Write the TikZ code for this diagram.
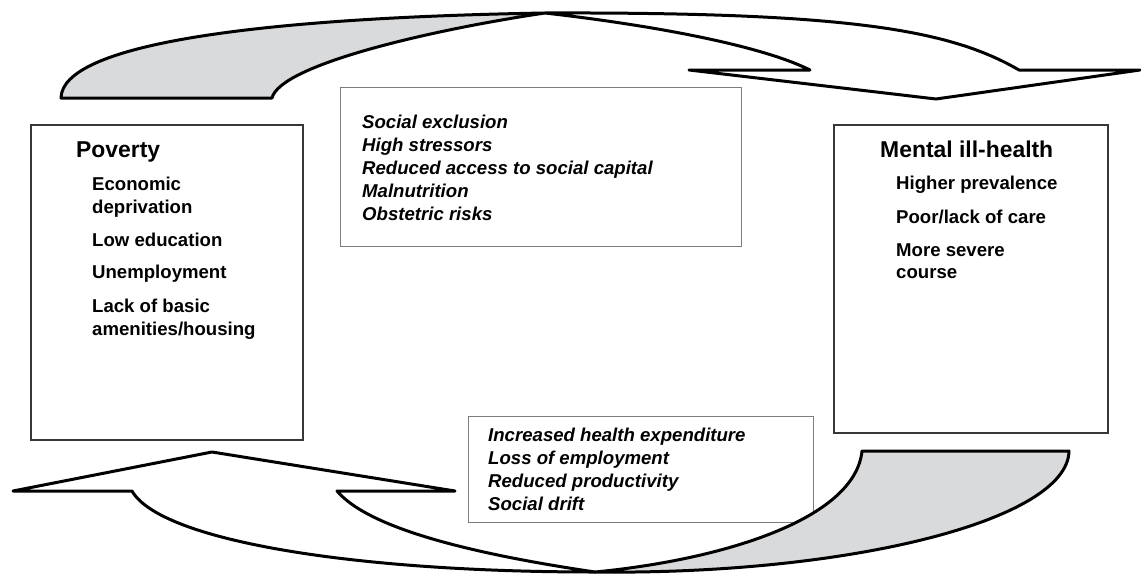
\documentclass[tikz,border=0pt]{standalone}
\usepackage{fontspec}
\setmainfont{Liberation Sans}
\usepackage{tikz}
\usetikzlibrary{positioning}
\definecolor{ribbongray}{RGB}{217,218,220}
\definecolor{boxline}{RGB}{55,55,55}
\definecolor{noteline}{RGB}{125,125,125}
\tikzset{
  bigbox/.style={draw=boxline, line width=1.8pt, anchor=north west, inner sep=0pt},
  notebox/.style={draw=noteline, line width=1.1pt, anchor=north west, inner sep=0pt},
  ribbon/.style={draw=black, line width=3pt, line join=round},
  title/.style={anchor=base west, inner sep=0pt, font=\fontsize{22.9}{27}\selectfont\bfseries},
  item/.style={anchor=base west, inner sep=0pt, font=\fontsize{18.6}{24}\selectfont\bfseries},
  note/.style={anchor=base west, inner sep=0pt, font=\fontsize{18.6}{24}\selectfont\bfseries\itshape}
}

\begin{document}
\begin{tikzpicture}[x=1pt, y=-1pt]
\useasboundingbox[fill=white] (0,0) rectangle (1141,576);

% boxes
\node[bigbox, minimum width=272pt, minimum height=315pt] (poverty) at (30,124) {};
\node[bigbox, minimum width=274pt, minimum height=308pt] (mental) at (833,124) {};
\node[notebox, minimum width=401pt, minimum height=159pt] (causes) at (340,87) {};
\node[notebox, minimum width=345pt, minimum height=106pt] (effects) at (468,416) {};

% poverty
\node[title] (povtitle) at (76,157) {Poverty};
\foreach \yy/\txt [count=\i] in {190/Economic, 213/deprivation, 246/{Low education},
    278/Unemployment, 312/{Lack of basic}, 335/{amenities/housing}}
  \node[item] (pov\i) at (92,\yy) {\txt};

% mental ill-health
\node[title] (mentitle) at (880,157) {Mental ill-health};
\foreach \yy/\txt [count=\i] in {189/{Higher prevalence}, 223/{Poor/lack of care},
    256/{More severe}, 278/course}
  \node[item] (men\i) at (896,\yy) {\txt};

% pathways
\foreach \yy/\txt [count=\i] in {128/{Social exclusion}, 151/{High stressors},
    174/{Reduced access to social capital}, 197/Malnutrition, 220/{Obstetric risks}}
  \node[note] (cause\i) at (362,\yy) {\txt};
\foreach \yy/\txt [count=\i] in {441/{Increased health expenditure}, 464/{Loss of employment},
    487/{Reduced productivity}, 510/{Social drift}}
  \node[note] (effect\i) at (488,\yy) {\txt};

% top ribbon arrow
\coordinate (topx) at (545,13);
\filldraw[ribbon, fill=ribbongray] (61,98) .. controls (62,45) and (250,18) .. (topx)
  .. controls (430,30) and (280,65) .. (272,98) -- cycle;
\filldraw[ribbon, fill=white] (topx) .. controls (850,12) and (950,30) .. (1019,70)
  -- (1140,70) -- (936,99) -- (689,70) -- (810,70)
  .. controls (760,45) and (650,25) .. (topx) -- cycle;

% bottom ribbon arrow
\coordinate (botx) at (595,572);
\filldraw[ribbon, fill=ribbongray] (botx) .. controls (850,575) and (1068,520) .. (1069,451)
  -- (862,451) .. controls (855,520) and (720,560) .. (botx) -- cycle;
\filldraw[ribbon, fill=white] (botx) .. controls (350,572) and (160,540) .. (132,491)
  -- (13,491) -- (212,452) -- (455,491) -- (337,491)
  .. controls (370,530) and (480,555) .. (botx) -- cycle;
\end{tikzpicture}
\end{document}
